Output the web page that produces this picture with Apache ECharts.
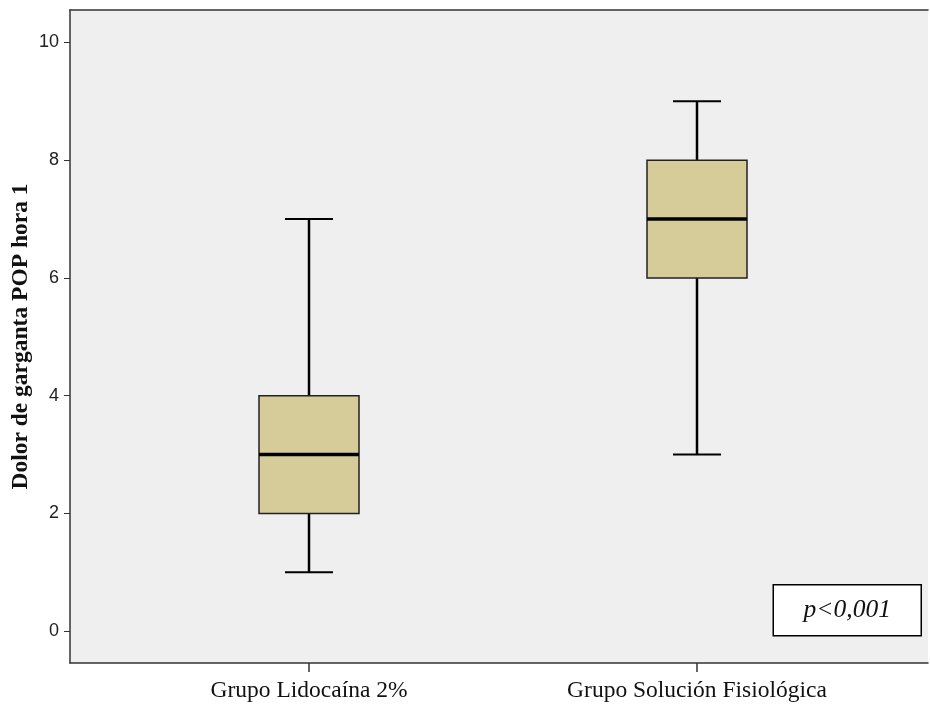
<!DOCTYPE html>
<html>
<head>
<meta charset="utf-8">
<script src="https://cdn.jsdelivr.net/npm/echarts@6/dist/echarts.min.js"></script>
<style>
  html, body { margin: 0; padding: 0; background: #fff; }
  #chart { width: 930px; height: 713px; }
</style>
</head>
<body>
<div id="chart"></div>
<script>
const categories = ['Grupo Lidocaína 2%', 'Grupo Solución Fisiológica']
// [min, Q1, mediana, Q3, max]
const boxValues = [
  [1, 2, 3, 4, 7],
  [3, 6, 7, 8, 9],
]
const yTicks = [0, 2, 4, 6, 8, 10]
const yName = 'Dolor de garganta POP hora 1'
const pLabel = 'p<0,001'

const chart = echarts.init(document.getElementById('chart'))

const yMin = -0.54
const yMax = 10.55
const boxW = 100
const capW = 48

const axisLineStyle = { color: '#333', width: 1.5 }

// caja estilo SPSS: cuerpo, mediana gruesa, bigotes con remate corto
const renderBox = (params, api) => {
  const i = api.value(0)
  const pMin = api.coord([i, api.value(1)])
  const pQ1 = api.coord([i, api.value(2)])
  const pMed = api.coord([i, api.value(3)])
  const pQ3 = api.coord([i, api.value(4)])
  const pMax = api.coord([i, api.value(5)])
  const x = pMed[0]
  const lw = { stroke: '#000', lineWidth: 2.5 }
  return {
    type: 'group',
    children: [
      { type: 'line', shape: { x1: x, y1: pQ3[1], x2: x, y2: pMax[1] }, style: lw },
      { type: 'line', shape: { x1: x, y1: pQ1[1], x2: x, y2: pMin[1] }, style: lw },
      { type: 'line', shape: { x1: x - capW / 2, y1: pMax[1], x2: x + capW / 2, y2: pMax[1] }, style: { stroke: '#000', lineWidth: 2 } },
      { type: 'line', shape: { x1: x - capW / 2, y1: pMin[1], x2: x + capW / 2, y2: pMin[1] }, style: { stroke: '#000', lineWidth: 2 } },
      {
        type: 'rect',
        shape: { x: x - boxW / 2, y: pQ3[1], width: boxW, height: pQ1[1] - pQ3[1] },
        style: { fill: '#d6cc9a', stroke: '#222', lineWidth: 1.5 },
      },
      { type: 'line', shape: { x1: x - boxW / 2, y1: pMed[1], x2: x + boxW / 2, y2: pMed[1] }, style: { stroke: '#000', lineWidth: 3.5 } },
    ],
  }
}

const option = {
  animation: false,
  backgroundColor: '#ffffff',
  grid: [
    // marco completo
    { left: 70, right: 2, top: 10, bottom: 50, show: true, backgroundColor: '#efefef', borderWidth: 0, containLabel: false, outerBoundsMode: 'none' },
    // zona de las cajas (bandas más estrechas, como SPSS)
    { left: 115, right: 39, top: 10, bottom: 50, containLabel: false, outerBoundsMode: 'none' },
  ],
  xAxis: [
    {
      gridIndex: 0, type: 'value', min: 0, max: 1, position: 'bottom',
      axisLine: { show: true, onZero: false, lineStyle: axisLineStyle },
      axisTick: { show: false }, axisLabel: { show: false }, splitLine: { show: false },
    },
    {
      gridIndex: 0, type: 'value', min: 0, max: 1, position: 'top',
      axisLine: { show: true, onZero: false, lineStyle: axisLineStyle },
      axisTick: { show: false }, axisLabel: { show: false }, splitLine: { show: false },
    },
    {
      gridIndex: 1, type: 'category', data: categories, position: 'bottom',
      axisLine: { show: false, onZero: false },
      axisTick: { show: true, alignWithLabel: true, length: 9, lineStyle: { color: '#333', width: 1.5 } },
      axisLabel: { color: '#111', fontFamily: 'Liberation Serif', fontSize: 23.5, margin: 16 },
      splitLine: { show: false },
    },
  ],
  yAxis: [
    {
      gridIndex: 0, type: 'value', min: yMin, max: yMax,
      name: yName, nameLocation: 'middle', nameGap: 37, nameRotate: 90, nameMoveOverlap: false,
      nameTextStyle: { fontFamily: 'Liberation Serif', fontWeight: 'bold', fontSize: 23.5, color: '#111' },
      axisLine: { show: true, onZero: false, lineStyle: axisLineStyle },
      axisTick: { show: true, length: 6, customValues: yTicks, lineStyle: { color: '#333' } },
      axisLabel: { customValues: yTicks, color: '#222', fontFamily: 'Liberation Sans', fontSize: 18, margin: 11 },
      splitLine: { show: false },
    },
    {
      gridIndex: 1, type: 'value', min: yMin, max: yMax, show: false,
    },
  ],
  series: [
    {
      name: 'caja',
      type: 'custom',
      xAxisIndex: 2,
      yAxisIndex: 1,
      renderItem: renderBox,
      encode: { x: 0, y: [1, 2, 3, 4, 5] },
      data: boxValues.map((d, i) => [i, ...d]),
    },
  ],
  graphic: [
    {
      type: 'group', right: 8, top: 584,
      children: [
        { type: 'rect', shape: { x: 0, y: 0, width: 148, height: 51 }, style: { fill: '#fff', stroke: '#000', lineWidth: 1.5 } },
        {
          type: 'text', x: 74, y: 26,
          style: {
            text: pLabel, fill: '#111', align: 'center', verticalAlign: 'middle',
            font: 'italic 25.5px "Liberation Serif"',
          },
        },
      ],
    },
  ],
}

chart.setOption(option)
</script>
</body>
</html>
